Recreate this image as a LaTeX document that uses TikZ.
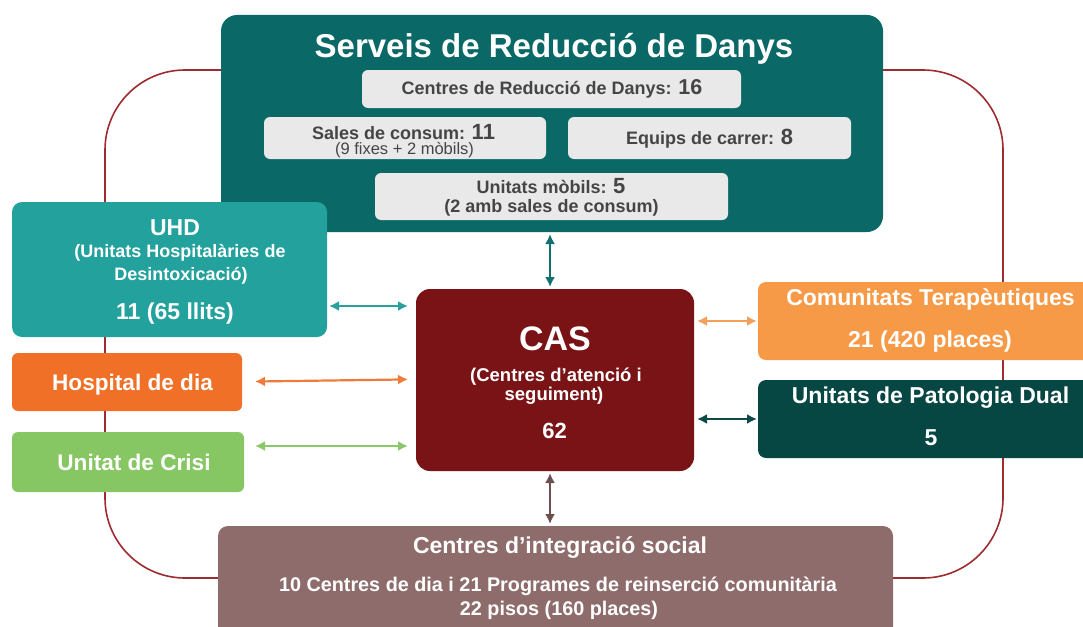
\documentclass[tikz,border=0pt]{standalone}
\usepackage{fontspec}
\setmainfont{Liberation Sans}
\usetikzlibrary{arrows.meta}
\definecolor{srdC}{HTML}{0A6866}
\definecolor{grayBox}{HTML}{E9E9E9}
\definecolor{grayTxt}{HTML}{454545}
\definecolor{uhdC}{HTML}{23A19C}
\definecolor{hddC}{HTML}{F07028}
\definecolor{crsC}{HTML}{86C663}
\definecolor{casC}{HTML}{7A1316}
\definecolor{ctC}{HTML}{F79A47}
\definecolor{dualC}{HTML}{064744}
\definecolor{cisC}{HTML}{8E6C6C}
\definecolor{loopC}{HTML}{9E2B30}
\definecolor{arrUhd}{HTML}{2AA19D}
\definecolor{arrHdd}{HTML}{EE7B3A}
\definecolor{arrCrs}{HTML}{8BC86A}
\definecolor{arrCt}{HTML}{F4A05A}
\definecolor{arrDual}{HTML}{0B4A47}
\definecolor{arrSrd}{HTML}{137070}
\definecolor{arrCis}{HTML}{6D4F50}
\newcommand\fsz[1]{\fontsize{#1}{#1}\selectfont}
\begin{document}
\begin{tikzpicture}[x=1pt,y=-1pt,
  bx/.style={rectangle, inner sep=0pt, outer sep=0pt, draw=none},
  tx/.style={anchor=base, inner sep=0pt, text=white, font=\bfseries\fsz{#1}},
  gt/.style={anchor=base, inner sep=0pt, text=grayTxt, font=\bfseries\fsz{#1}},
  biarrow/.style={draw=#1, line width=2.2pt, {Latex[length=10pt,width=10pt]}-{Latex[length=10pt,width=10pt]}}
]
\useasboundingbox (0,0) rectangle (1083,626);
% background loop
\draw[loopC, line width=1.6pt, rounded corners=80pt] (105,70) rectangle (1003,578);

% top box
\node[bx, fill=srdC, rounded corners=16pt, minimum width=662pt, minimum height=217pt] (srd) at (552,123.5) {};
\node[bx, fill=grayBox, rounded corners=6pt, minimum width=379pt, minimum height=38pt] (crd) at (551.5,89) {};
\node[bx, fill=grayBox, rounded corners=6pt, minimum width=282pt, minimum height=42pt] (sal) at (405,138) {};
\node[bx, fill=grayBox, rounded corners=6pt, minimum width=283pt, minimum height=42pt] (eqp) at (709.5,138) {};
\node[bx, fill=grayBox, rounded corners=6pt, minimum width=353pt, minimum height=47pt] (umb) at (551.5,196.5) {};

% side boxes
\node[bx, fill=uhdC, rounded corners=10pt, minimum width=315pt, minimum height=135pt] (uhd) at (169.5,269.5) {};
\node[bx, fill=hddC, rounded corners=6pt, minimum width=230pt, minimum height=58pt] (hdd) at (127,382) {};
\node[bx, fill=crsC, rounded corners=6pt, minimum width=232pt, minimum height=60pt] (crs) at (128,462) {};
\node[bx, fill=casC, rounded corners=14pt, minimum width=278pt, minimum height=182pt] (cas) at (555,380) {};
\node[bx, fill=ctC, rounded corners=8pt, minimum width=337pt, minimum height=78pt] (ct) at (926.5,321) {};
\node[bx, fill=dualC, rounded corners=8pt, minimum width=337pt, minimum height=78pt] (dual) at (926.5,419) {};
\node[bx, fill=cisC, rounded corners=10pt, minimum width=675pt, minimum height=114pt] (cis) at (555.5,583) {};

% texts
\node[tx=33] (srdT) at (554,57) {Serveis de Reducció de Danys};
\node[gt=18] (crdT) at (552,94) {Centres de Reducció de Danys: {\fsz{21.5}16}};
\node[gt=18] (salT) at (403.5,139) {Sales de consum: {\fsz{22}11}};
\node[gt=16.5, font=\mdseries\fsz{16.5}] (salT2) at (404.5,154) {(9 fixes + 2 mòbils)};
\node[gt=18] (eqpT) at (709.5,144) {Equips de carrer: {\fsz{22}8}};
\node[gt=18] (umbT) at (551,193) {Unitats mòbils: {\fsz{22}5}};
\node[gt=18] (umbT2) at (551.5,212) {(2 amb sales de consum)};

\node[tx=23] (uhdT1) at (175,235) {UHD};
\node[tx=18] (uhdT2) at (180,257) {(Unitats Hospitalàries de};
\node[tx=18] (uhdT3) at (181,280) {Desintoxicació)};
\node[tx=23] (uhdT4) at (175,319) {11 (65 llits)};
\node[tx=22.6] (hddT) at (132.5,390) {Hospital de dia};
\node[tx=22.6] (crsT) at (134,470) {Unitat de Crisi};

\node[tx=34] (casT1) at (555,350) {CAS};
\node[tx=18.5] (casT2) at (556,381) {(Centres d’atenció i};
\node[tx=18.5] (casT3) at (554,400) {seguiment)};
\node[tx=22] (casT4) at (554.5,438) {62};

\node[tx=23] (ctT1) at (930.5,305) {Comunitats Terapèutiques};
\node[tx=23] (ctT2) at (930,347) {21 (420 places)};
\node[tx=23] (dualT1) at (930.5,403) {Unitats de Patologia Dual};
\node[tx=23] (dualT2) at (931,445) {5};

\node[tx=23] (cisT1) at (560,553) {Centres d’integració social};
\node[tx=19.8] (cisT2) at (558,591) {10 Centres de dia i 21 Programes de reinserció comunitària};
\node[tx=19.8] (cisT3) at (559,615) {22 pisos (160 places)};

% connectors
\draw[biarrow=arrSrd, shorten <=2pt, shorten >=2pt] (550,0 |- srd.south) -- (550,0 |- cas.north);
\draw[biarrow=arrCis, shorten <=2pt, shorten >=2pt] (550,0 |- cas.south) -- (550,0 |- cis.north);
\draw[biarrow=arrUhd, shorten <=2pt, shorten >=8pt] (uhd.east |- 0,306) -- (cas.west |- 0,306);
\draw[biarrow=arrHdd, shorten <=13pt, shorten >=8pt] (hdd.east |- 0,381.7) -- (cas.west |- 0,379.3);
\draw[biarrow=arrCrs, shorten <=11pt, shorten >=8pt] (crs.east |- 0,446) -- (cas.west |- 0,446);
\draw[biarrow=arrCt, shorten <=3pt, shorten >=1pt] (cas.east |- 0,321) -- (ct.west |- 0,321);
\draw[biarrow=arrDual, shorten <=3pt, shorten >=1pt] (cas.east |- 0,419) -- (dual.west |- 0,419);
\end{tikzpicture}
\end{document}
